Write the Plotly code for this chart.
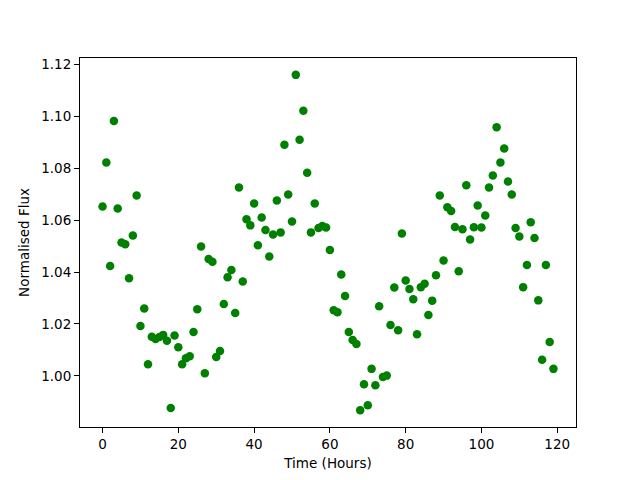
import plotly.graph_objects as go

hours = list(range(120))
flux = [
    1.0653, 1.0822, 1.0423, 1.0982, 1.0645, 1.0514, 1.0507, 1.0376, 1.0541, 1.0695,
    1.0192, 1.0260, 1.0045, 1.0151, 1.0142, 1.0150, 1.0158, 1.0135, 0.9876, 1.0156,
    1.0110, 1.0045, 1.0068, 1.0076, 1.0169, 1.0257, 1.0499, 1.0010, 1.0450, 1.0440,
    1.0073, 1.0096, 1.0277, 1.0380, 1.0408, 1.0242, 1.0726, 1.0364, 1.0604, 1.0580,
    1.0664, 1.0503, 1.0610, 1.0562, 1.0460, 1.0545, 1.0676, 1.0553, 1.0891, 1.0699,
    1.0595, 1.1160, 1.0910, 1.1022, 1.0783, 1.0553, 1.0664, 1.0570, 1.0578, 1.0572,
    1.0485, 1.0253, 1.0245, 1.0391, 1.0308, 1.0169, 1.0138, 1.0123, 0.9868, 0.9968,
    0.9887, 1.0027, 0.9964, 1.0268, 0.9996, 1.0001, 1.0196, 1.0341, 1.0176, 1.0549,
    1.0368, 1.0335, 1.0295, 1.0160, 1.0342, 1.0355, 1.0235, 1.0290, 1.0388, 1.0695,
    1.0445, 1.0650, 1.0635, 1.0574, 1.0403, 1.0565, 1.0735, 1.0526, 1.0573, 1.0657,
    1.0572, 1.0618, 1.0726, 1.0772, 1.0958, 1.0822, 1.0876, 1.0749, 1.0699, 1.0570,
    1.0537, 1.0342, 1.0427, 1.0592, 1.0531, 1.0291, 1.0062, 1.0427, 1.0131, 1.0027,
]

x_ticks = [0, 20, 40, 60, 80, 100, 120]
y_ticks = [1.00, 1.02, 1.04, 1.06, 1.08, 1.10, 1.12]

fig = go.Figure(
    go.Scatter(
        x=hours, y=flux, mode="markers",
        marker=dict(color="#008000", size=8.5, line=dict(width=0)),
        showlegend=False,
    )
)

axis_common = dict(
    showline=True, linecolor="black", linewidth=1, mirror=True,
    ticks="outside", ticklen=5, tickwidth=1, tickcolor="black",
    showgrid=False, zeroline=False, automargin=False,
    tickfont=dict(family="DejaVu Sans", size=13.5, color="black"),
)

fig.update_layout(
    width=640, height=480,
    margin=dict(l=80, r=64, t=58, b=53),
    paper_bgcolor="white", plot_bgcolor="white",
    font=dict(family="DejaVu Sans", size=13.5, color="black"),
    xaxis=dict(
        range=[-5.95, 124.95], tickvals=x_ticks,
        ticktext=[str(v) for v in x_ticks],
        title=dict(text="Time (Hours)", standoff=7,
                   font=dict(family="DejaVu Sans", size=13.5)),
        **axis_common,
    ),
    yaxis=dict(
        range=[0.9803, 1.1225], tickvals=y_ticks,
        ticktext=[f"{v:.2f}" for v in y_ticks],
        title=dict(text="Normalised Flux", standoff=8,
                   font=dict(family="DejaVu Sans", size=13.5)),
        **axis_common,
    ),
)

fig.write_html(
    "out.html",
    config={"displayModeBar": False},
    post_script="document.body.style.margin='0';document.body.style.overflow='hidden';",
)
